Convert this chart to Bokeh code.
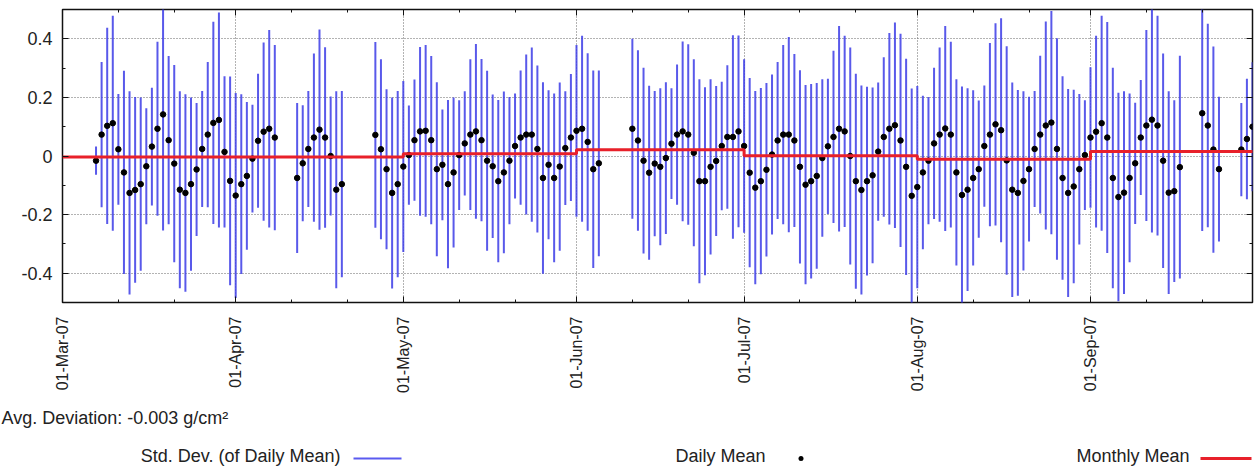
import math
import pandas as pd
from bokeh.plotting import figure
from bokeh.layouts import column
from bokeh.models import (Range1d, FixedTicker, DatetimeTickFormatter, NumeralTickFormatter,
                          LinearAxis, DatetimeAxis, Label, BoxAnnotation, ColumnDataSource,
                          CustomLabelingPolicy)
from bokeh.embed import file_html
from bokeh.resources import INLINE

# ---------------- data ----------------
dates = [
    "2007-03-07", "2007-03-08", "2007-03-09", "2007-03-10", "2007-03-11", "2007-03-12", "2007-03-13",
    "2007-03-14", "2007-03-15", "2007-03-16", "2007-03-17", "2007-03-18", "2007-03-19", "2007-03-20",
    "2007-03-21", "2007-03-22", "2007-03-23", "2007-03-24", "2007-03-25", "2007-03-26", "2007-03-27",
    "2007-03-28", "2007-03-29", "2007-03-30", "2007-03-31",
    "2007-04-01", "2007-04-02", "2007-04-03", "2007-04-04", "2007-04-05", "2007-04-06", "2007-04-07",
    "2007-04-08",
    "2007-04-12", "2007-04-13", "2007-04-14", "2007-04-15", "2007-04-16", "2007-04-17", "2007-04-18",
    "2007-04-19", "2007-04-20",
    "2007-04-26", "2007-04-27", "2007-04-28", "2007-04-29", "2007-04-30",
    "2007-05-01", "2007-05-02", "2007-05-03", "2007-05-04", "2007-05-05", "2007-05-06", "2007-05-07",
    "2007-05-08", "2007-05-09", "2007-05-10", "2007-05-11", "2007-05-12", "2007-05-13", "2007-05-14",
    "2007-05-15", "2007-05-16", "2007-05-17", "2007-05-18", "2007-05-19", "2007-05-20", "2007-05-21",
    "2007-05-22", "2007-05-23", "2007-05-24", "2007-05-25", "2007-05-26", "2007-05-27", "2007-05-28",
    "2007-05-29", "2007-05-30", "2007-05-31",
    "2007-06-01", "2007-06-02", "2007-06-03", "2007-06-04", "2007-06-05",
    "2007-06-11", "2007-06-12", "2007-06-13", "2007-06-14", "2007-06-15", "2007-06-16", "2007-06-17",
    "2007-06-18", "2007-06-19", "2007-06-20", "2007-06-21", "2007-06-22", "2007-06-23", "2007-06-24",
    "2007-06-25", "2007-06-26", "2007-06-27", "2007-06-28", "2007-06-29", "2007-06-30",
    "2007-07-01", "2007-07-02", "2007-07-03", "2007-07-04", "2007-07-05", "2007-07-06", "2007-07-07",
    "2007-07-08", "2007-07-09", "2007-07-10", "2007-07-11", "2007-07-12", "2007-07-13", "2007-07-14",
    "2007-07-15", "2007-07-16", "2007-07-17", "2007-07-18", "2007-07-19", "2007-07-20", "2007-07-21",
    "2007-07-22", "2007-07-23", "2007-07-24", "2007-07-25", "2007-07-26", "2007-07-27", "2007-07-28",
    "2007-07-29", "2007-07-30", "2007-07-31",
    "2007-08-01", "2007-08-02", "2007-08-03", "2007-08-04", "2007-08-05", "2007-08-06", "2007-08-07",
    "2007-08-08", "2007-08-09", "2007-08-10", "2007-08-11", "2007-08-12", "2007-08-13", "2007-08-14",
    "2007-08-15", "2007-08-16", "2007-08-17", "2007-08-18", "2007-08-19", "2007-08-20", "2007-08-21",
    "2007-08-22", "2007-08-23", "2007-08-24", "2007-08-25", "2007-08-26", "2007-08-27", "2007-08-28",
    "2007-08-29", "2007-08-30", "2007-08-31",
    "2007-09-01", "2007-09-02", "2007-09-03", "2007-09-04", "2007-09-05", "2007-09-06", "2007-09-07",
    "2007-09-08", "2007-09-09", "2007-09-10", "2007-09-11", "2007-09-12", "2007-09-13", "2007-09-14",
    "2007-09-15", "2007-09-16", "2007-09-17",
    "2007-09-21", "2007-09-22", "2007-09-23", "2007-09-24",
    "2007-09-28", "2007-09-29", "2007-09-30",
]

daily_mean = [
    -0.016, 0.073, 0.103, 0.112, 0.023, -0.056, -0.126, -0.116, -0.096, -0.035, 0.032, 0.093, 0.142,
    0.054, -0.026, -0.115, -0.126, -0.096, -0.046, 0.024, 0.073, 0.113, 0.123, 0.014, -0.085,
    -0.135, -0.096, -0.068, -0.009, 0.052, 0.083, 0.093, 0.063,
    -0.075, -0.025, 0.024, 0.063, 0.090, 0.063, 0.000, -0.115, -0.096,
    0.072, 0.023, -0.045, -0.126, -0.096,
    -0.036, 0.003, 0.054, 0.084, 0.086, 0.054, -0.045, -0.030, -0.096, -0.056, 0.003, 0.043, 0.073,
    0.084, 0.054, -0.016, -0.035, -0.086, -0.056, -0.016, 0.034, 0.063, 0.073, 0.073, 0.024, -0.075,
    -0.030, -0.075, -0.036, 0.027, 0.063,
    0.086, 0.093, 0.048, -0.045, -0.025,
    0.093, 0.053, -0.016, -0.057, -0.026, -0.037, -0.007, 0.042, 0.073, 0.084, 0.073, 0.011, -0.086,
    -0.086, -0.037, -0.017, 0.034, 0.065, 0.065, 0.084,
    0.034, -0.057, -0.108, -0.086, -0.047, 0.005, 0.053, 0.073, 0.073, 0.053, -0.037, -0.098, -0.086,
    -0.068, -0.007, 0.033, 0.065, 0.093, 0.084, 0.000, -0.086, -0.116, -0.086, -0.066, 0.015, 0.065,
    0.093, 0.105, 0.053, -0.037, -0.136,
    -0.106, -0.056, -0.016, 0.043, 0.073, 0.094, 0.073, -0.056, -0.133, -0.115, -0.075, -0.045, 0.034,
    0.073, 0.108, 0.088, -0.015, -0.115, -0.126, -0.085, -0.045, 0.024, 0.073, 0.104, 0.114, 0.024,
    -0.075, -0.126, -0.104, -0.045, 0.003,
    0.063, 0.083, 0.112, 0.063, -0.075, -0.140, -0.125, -0.075, -0.025, 0.063, 0.104, 0.124, 0.104,
    -0.016, -0.125, -0.120, -0.038,
    0.146, 0.104, 0.022, -0.045,
    0.022, 0.058, 0.100,
]

daily_std = [
    0.048, 0.248, 0.335, 0.367, 0.189, 0.347, 0.347, 0.317, 0.296, 0.198, 0.201, 0.297, 0.396,
    0.287, 0.337, 0.336, 0.337, 0.296, 0.227, 0.198, 0.248, 0.345, 0.367, 0.258, 0.356,
    0.350, 0.307, 0.252, 0.184, 0.229, 0.304, 0.337, 0.316,
    0.256, 0.198, 0.198, 0.287, 0.342, 0.308, 0.203, 0.336, 0.318,
    0.317, 0.307, 0.273, 0.326, 0.318,
    0.292, 0.169, 0.207, 0.288, 0.293, 0.287, 0.297, 0.189, 0.287, 0.256, 0.187, 0.178, 0.257,
    0.298, 0.277, 0.307, 0.245, 0.277, 0.276, 0.217, 0.179, 0.229, 0.273, 0.297, 0.285, 0.327,
    0.254, 0.288, 0.287, 0.194, 0.217,
    0.293, 0.317, 0.303, 0.337, 0.317,
    0.307, 0.308, 0.317, 0.297, 0.248, 0.268, 0.259, 0.189, 0.239, 0.307, 0.308, 0.319, 0.348,
    0.321, 0.299, 0.256, 0.219, 0.245, 0.347, 0.327,
    0.296, 0.323, 0.330, 0.318, 0.296, 0.273, 0.268, 0.306, 0.333, 0.295, 0.330, 0.340, 0.332,
    0.317, 0.269, 0.231, 0.294, 0.351, 0.326, 0.370, 0.367, 0.357, 0.322, 0.300, 0.236, 0.272,
    0.327, 0.351, 0.364, 0.369, 0.366,
    0.345, 0.262, 0.217, 0.258, 0.297, 0.350, 0.317, 0.318, 0.370, 0.346, 0.299, 0.234, 0.207,
    0.313, 0.345, 0.382, 0.390, 0.366, 0.351, 0.306, 0.247, 0.198, 0.269, 0.355, 0.381, 0.378,
    0.347, 0.355, 0.330, 0.257, 0.187,
    0.240, 0.327, 0.367, 0.394, 0.376, 0.356, 0.346, 0.288, 0.207, 0.196, 0.326, 0.385, 0.375,
    0.366, 0.346, 0.310, 0.380,
    0.402, 0.347, 0.352, 0.247,
    0.159, 0.206, 0.220,
]

month_starts = ["2007-03-01", "2007-04-01", "2007-05-01", "2007-06-01",
                "2007-07-01", "2007-08-01", "2007-09-01"]
monthly_mean = [-0.003, -0.003, 0.008, 0.021, 0.001, -0.011, 0.015]
series_end = "2007-10-01"

x_tick_dates = month_starts
x_minor_dates = [m[:8] + d for m in month_starts for d in ("11", "21")]
y_ticks = [-0.4, -0.2, 0.0, 0.2, 0.4]
y_minor_ticks = [-0.3, -0.1, 0.1, 0.3]
avg_deviation = -0.003
legend_labels = ["Std. Dev. (of Daily Mean)", "Daily Mean", "Monthly Mean"]

x_start, x_end = "2007-03-01", "2007-09-30"
y_start, y_end = -0.5, 0.5

FONT = "Liberation Sans"
TXT = "#222222"
BAR = "#3c3ce6"
RED = "#e8202a"
W = 1257
MAIN_H = 395
KEY_H = 76


def ms(s):
    return pd.Timestamp(s).value / 1e6


xs = pd.to_datetime(dates)
src = ColumnDataSource(dict(
    x=xs,
    mean=daily_mean,
    lo=[m - s for m, s in zip(daily_mean, daily_std)],
    hi=[m + s for m, s in zip(daily_mean, daily_std)],
))

p = figure(width=W, height=MAIN_H, x_axis_type="datetime",
           x_range=Range1d(pd.Timestamp(x_start), pd.Timestamp(x_end)),
           y_range=Range1d(y_start, y_end),
           output_backend="svg", toolbar_location=None,
           min_border_left=62, min_border_right=2, min_border_top=9, min_border_bottom=92)
p.frame_align = False
p.background_fill_color = "white"
p.border_fill_color = "white"
p.outline_line_color = "#111111"
p.outline_line_width = 1.5

xticker = FixedTicker(ticks=[ms(d) for d in x_tick_dates], minor_ticks=[ms(d) for d in x_minor_dates])
yticker = FixedTicker(ticks=y_ticks, minor_ticks=y_minor_ticks)

fmt = "%d-%b-%y"
xfmt = DatetimeTickFormatter(days=fmt, months=fmt, years=fmt, hours=fmt, hourmin=fmt)


def style_axis(ax):
    ax.axis_line_color = None
    ax.major_tick_in = 6
    ax.major_tick_out = 0
    ax.minor_tick_in = 3
    ax.minor_tick_out = 0
    ax.major_tick_line_color = "#111111"
    ax.minor_tick_line_color = "#111111"
    ax.major_label_text_font = FONT
    ax.major_label_text_color = TXT


def mirror_axis(ax):
    style_axis(ax)
    ax.major_label_policy = CustomLabelingPolicy(code="return new Set()")
    ax.major_label_text_font_size = "1px"
    ax.major_label_standoff = 0


xa = p.xaxis[0]
xa.ticker = xticker
xa.formatter = xfmt
style_axis(xa)
xa.major_label_orientation = math.pi / 2
xa.major_label_text_font_size = "16px"
xa.major_label_standoff = 14

ya = p.yaxis[0]
ya.ticker = yticker
ya.formatter = NumeralTickFormatter(format="0.[0]")
style_axis(ya)
ya.major_label_text_font_size = "18px"
ya.major_label_standoff = 10

top_axis = DatetimeAxis(ticker=xticker, formatter=xfmt)
mirror_axis(top_axis)
p.add_layout(top_axis, "above")
right_axis = LinearAxis(ticker=yticker)
mirror_axis(right_axis)
p.add_layout(right_axis, "right")

p.xgrid.ticker = xticker
p.ygrid.ticker = yticker
for g in (p.xgrid[0], p.ygrid[0]):
    g.grid_line_color = "#666666"
    g.grid_line_dash = "1 2"
    g.grid_line_width = 1

# std dev bars
p.segment(x0="x", y0="lo", x1="x", y1="hi", source=src,
          line_color=BAR, line_width=2, line_alpha=0.85)
# daily means
p.scatter(x="x", y="mean", source=src, size=5.5, color="black")
# monthly mean step line
step_x = pd.to_datetime(month_starts + [series_end])
step_y = monthly_mean + [monthly_mean[-1]]
p.step(x=step_x, y=step_y, mode="after", line_color=RED, line_width=3)

# ---------------- texts and key below the plot (separate strip, no axes) ----------------
k = figure(width=W, height=KEY_H, x_range=Range1d(0, W), y_range=Range1d(0, KEY_H),
           x_axis_location=None, y_axis_location=None,
           output_backend="svg", toolbar_location=None,
           min_border_left=0, min_border_right=0, min_border_top=0, min_border_bottom=0)
k.frame_align = False
k.grid.visible = False
k.outline_line_color = None
k.background_fill_color = "white"
k.border_fill_color = "white"


def ky(cy):
    # canvas y (from top of the whole picture) -> strip screen y (from strip bottom)
    return MAIN_H + KEY_H - cy


k.add_layout(Label(x=1, y=ky(427), x_units="screen", y_units="screen",
                   text=f"Avg. Deviation: {avg_deviation:.3f} g/cm\u00b2",
                   text_font=FONT, text_font_size="18px", text_color=TXT))

key_y = 465
for txt, right in zip(legend_labels, (340, 765, 1189)):
    k.add_layout(Label(x=right, y=ky(key_y), x_units="screen", y_units="screen",
                       text=txt, text_align="right", text_font=FONT, text_font_size="18px",
                       text_color=TXT))


def box(l, r, t, b, color, radius=0):
    return BoxAnnotation(left=l, right=r, top=ky(t), bottom=ky(b),
                         left_units="screen", right_units="screen",
                         top_units="screen", bottom_units="screen",
                         fill_color=color, fill_alpha=1, line_color=None, border_radius=radius)


k.add_layout(box(353, 401, 457, 459, "#5a5af0"))
k.add_layout(box(798, 803, 455.5, 460.5, "black", 3))
k.add_layout(box(1200, 1251, 456.5, 459.5, RED))

layout = column(p, k, spacing=0)
open("out.html", "w").write(file_html(layout, INLINE))
